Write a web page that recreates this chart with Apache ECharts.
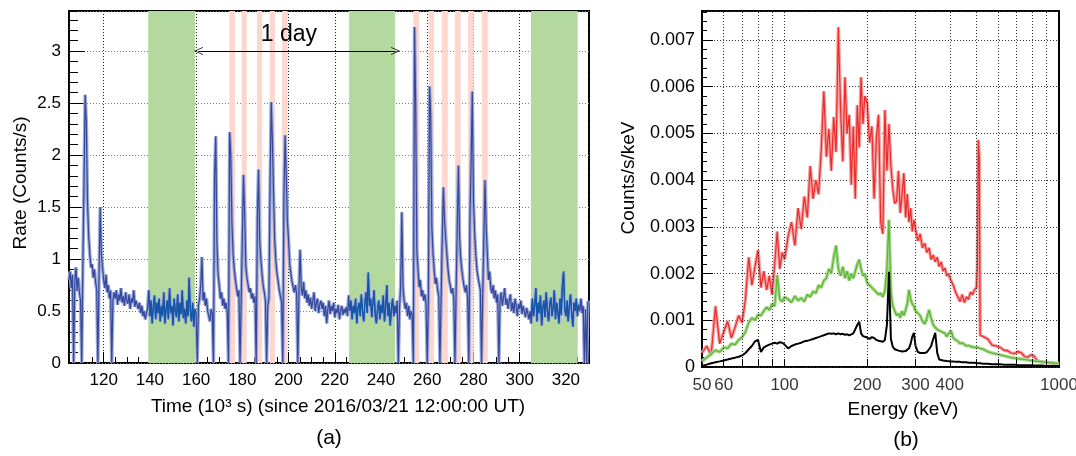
<!DOCTYPE html>
<html>
<head>
<meta charset="utf-8">
<script src="https://cdn.jsdelivr.net/npm/echarts@6/dist/echarts.min.js"></script>
<style>
  html, body { margin: 0; padding: 0; background: #fff; }
  #chart { width: 1076px; height: 456px; }
</style>
</head>
<body>
<div id="chart"></div>
<script>
// ---- (a) light curve: rate in counts/s, one bin every 0.5 x 10^3 s starting at 105 ----
const t0 = 105.0
const binKs = 0.5
const rate = [
  0.80,0.88,0.72,0.85,0,0.78,0.92,0.70,0.82,0.68,0.60,0,0.95,1.75,2.58,2.30,1.55,1.22,1.05,0.92, // 105
  0.95,0.82,0.90,0.78,0.70,0,0.85,1.50,1.05,0.92,0.80,0.72,0.85,0.68,0.75,0.62,0.70,0,0.60,0.68, // 115
  0.62,0.70,0.56,0.66,0.60,0.72,0.58,0.64,0.55,0.68,0.60,0.57,0.66,0.52,0.62,0.58,0.70,0.54,0.60,0.56, // 125
  0.52,0.58,0.48,0.55,0.45,0.50,0.42,0.48,0.52,0.70,0.45,0.60,0.38,0.55,0.65,0.42,0.58,0.48,0.62,0.40, // 135
  0.55,0.45,0.68,0.38,0.52,0.60,0.42,0.72,0.48,0.55,0.36,0.62,0.50,0.44,0.66,0.40,0.58,0.47,0.70,0.43, // 145
  0.52,0.38,0.60,0.45,0.82,0.50,0.40,0.58,0.35,0.52,0.48,0,0.55,0.62,0.75,1.02,0.60,0.68,0.55,0.62, // 155
  0.50,0.45,0.40,0.52,0.48,0,1.80,2.18,1.15,0.85,0.75,0.62,0.68,0.55,0.62,0.52,0.58,0.48,0,2.22, // 165
  2.00,1.34,1.05,0.90,0.80,0.72,0.64,0.70,0,0.60,1.20,1.81,1.44,0.93,0.82,0.75,0.68,0.72,0.62,0.67, // 175
  0.58,0.64,0,1.40,1.86,1.18,1.00,0.86,0.75,0.68,0.60,0,0.55,0.62,1.70,2.51,2.14,1.63,1.18,0.98, // 185
  0.86,0.78,0.70,0.64,0.58,0,1.60,2.19,1.80,1.37,1.18,0.95,0.86,0.78,0.73,0.68,0.75,0.66,0,0.70, // 195
  1.09,0.72,0.65,0.78,0.62,0.70,0.58,0.66,0.55,0.63,0.52,0.60,0.68,0.50,0.58,0.62,0.48,0.56,0.60,0.52, // 205
  0.58,0.45,0.55,0.38,0.52,0.60,0.47,0.55,0.50,0.58,0.44,0.52,0.48,0.56,0.42,0.50,0.55,0.46,0.52,0.48, // 215
  0.54,0.45,0.65,0.50,0.60,0.42,0.55,0.48,0.62,0.38,0.52,0.58,0.45,0.66,0.50,0.40,0.57,0.68,0.48,0.87, // 225
  0.55,0.62,0.44,0.58,0.70,0.46,0.38,0.52,0.60,0.42,0.56,0.48,0.65,0.40,0.53,0.75,0.45,0.58,0.36,0.52, // 235
  0.62,0.45,0.55,0.48,0.60,0,0.52,0.75,1.45,0.73,0.60,0.52,0.58,0.45,0.55,0.42,0.50,0.46,0,3.23, // 245
  2.50,1.09,0.90,0.73,0.80,0.64,0.70,0.60,0.66,0.57,0,0.60,2.66,2.38,1.31,1.05,0.90,0.76,0.82,0.70, // 255
  0.64,0,0.62,1.20,1.69,1.37,1.20,1.05,0.90,0.80,0.74,0.67,0.72,0.62,0,0.70,1.30,1.90,1.21,1.00, // 265
  0.89,0.80,0.73,0.68,0.75,0.62,0,1.40,1.95,2.61,1.57,1.25,1.05,0.90,0.82,0.76,0.70,0,0.65,1.20, // 275
  1.76,1.31,1.05,0.80,0.88,0.72,0.67,0.75,0.62,0.70,0.58,0.66,0,0.60,0.68,0.55,0.63,0.72,0.56,0.62, // 285
  0.52,0.60,0.66,0.50,0.58,0.48,0.62,0.55,0.45,0.57,0.52,0.60,0.47,0.55,0.50,0.44,0.53,0.48,0.42,0.50, // 295
  0.38,0.62,0.45,0.55,0.72,0.40,0.58,0.48,0.65,0.36,0.52,0.60,0.44,0.68,0.50,0.40,0.56,0.63,0.45,0.54, // 305
  0.70,0.42,0.58,0.50,0.38,0.62,0.46,0.75,0.88,0.52,0.45,0.60,0.40,0.55,0.66,0.48,0.35,0.58,0.50,0.62, // 315
  0.45,0.56,0.50,0.62,0.48,0.55,0,0.52,0,0.58,0.60 // 325
]

// green: quiet periods, pink: SAA passages (10^3 s)
const quietBands = [[139.3, 159.5], [226.2, 246.1], [304.9, 325.1]]
const saaBands = [
  [174.4, 176.8], [179.7, 181.9], [186.3, 188.6], [191.8, 194.1], [197.2, 199.6],
  [254.0, 256.5], [260.6, 263.0], [266.4, 268.9], [272.0, 274.5], [277.7, 280.1], [283.7, 286.2]
]
const dayArrow = [161.0, 246.3] // "1 day", drawn at rate 3.0

// ---- (b) spectra, 10^-3 counts/s/keV ----
const energyKeV = [
  50,52,54,56,58,60,62,64,66,68,70,72,74,76,78,80,82,84,86,88,90,92,94,96,98,
  100,103,106,109,112,115,118,121,124,127,130,133,136,139,142,145,148,151,154,157,160,163,166,169,172,175,178,181,184,187,190,193,196,
  200,204,208,212,216,220,224,228,232,236,240,244,248,252,256,260,264,268,272,276,280,284,288,292,296,
  300,306,312,318,324,330,336,342,348,354,360,366,372,378,384,390,396,
  404,412,420,428,436,444,452,460,468,476,484,492,500,
  504,508,512,516,
  530,550,570,590,610,630,650,670,690,710,730,750,770,790,810,830,850,870,890,910,930,950,970,990,1000
]
const redRate = [
  0.30,0.45,0.25,1.30,0.50,0.75,0.98,0.62,0.85,1.10,0.95,1.45,2.35,1.75,2.15,2.50,1.70,2.05,1.65,1.95,1.55,2.20,2.90,2.10,2.45,
  2.30,2.80,3.10,2.60,3.40,2.95,3.65,3.20,4.30,3.60,4.00,3.70,4.65,5.90,4.50,5.10,4.20,5.35,4.60,7.27,5.50,4.40,6.20,5.00,5.40,3.90,5.15,3.60,5.60,4.70,6.20,5.20,5.80,
  5.65,4.80,5.15,3.60,4.90,5.40,3.10,2.85,5.50,4.20,5.20,4.30,3.80,3.50,3.55,4.20,3.30,3.70,4.15,3.20,3.70,3.10,3.40,2.90,3.15,
  2.95,2.70,2.85,2.55,2.65,2.45,2.55,2.30,2.40,2.25,2.35,2.15,2.25,2.05,2.12,1.95,2.00,
  1.85,1.75,1.60,1.50,1.40,1.55,1.38,1.50,1.45,1.60,1.55,1.65,1.70,
  2.10,4.86,4.50,0.68,
  0.65,0.60,0.47,0.45,0.42,0.36,0.35,0.30,0.29,0.33,0.30,0.22,0.21,0.26,0.24,0.15,0.11,0.11,0.10,0.09,0.09,0.07,0.06,0.06,0.05
]
const greenRate = [
  0.12,0.20,0.28,0.36,0.32,0.42,0.40,0.50,0.48,0.58,0.64,0.75,0.95,1.05,1.00,1.12,1.10,1.20,1.28,1.22,1.35,1.30,1.97,1.45,1.40,
  1.50,1.45,1.38,1.52,1.42,1.48,1.40,1.55,1.50,1.62,1.58,1.75,1.70,1.85,1.90,2.10,2.00,2.35,2.60,2.10,1.95,2.15,1.90,2.05,1.85,2.00,1.90,2.05,2.20,2.30,2.10,1.95,2.00,
  1.80,1.75,1.70,1.65,1.60,1.55,1.58,1.50,1.62,2.10,3.15,1.60,1.30,1.20,1.10,1.15,1.05,1.20,1.10,1.22,1.35,1.65,1.45,1.35,1.30,
  1.20,1.15,1.10,0.98,0.92,1.05,1.22,1.05,0.90,0.85,0.80,0.78,0.76,0.74,0.72,0.65,0.72,
  0.78,0.62,0.58,0.55,0.50,0.52,0.48,0.45,0.46,0.44,0.43,0.42,0.42,
  0.42,0.43,0.41,0.40,
  0.38,0.33,0.30,0.28,0.26,0.24,0.22,0.20,0.19,0.18,0.17,0.16,0.15,0.14,0.13,0.12,0.12,0.11,0.10,0.10,0.09,0.09,0.08,0.08,0.08
]
const blackRate = [
  0.02,0.05,0.08,0.10,0.12,0.14,0.16,0.18,0.20,0.22,0.25,0.30,0.38,0.45,0.55,0.58,0.32,0.42,0.45,0.48,0.50,0.52,0.50,0.53,0.52,
  0.48,0.40,0.45,0.48,0.50,0.52,0.55,0.56,0.58,0.60,0.62,0.64,0.66,0.68,0.70,0.72,0.71,0.72,0.70,0.72,0.70,0.71,0.69,0.70,0.68,0.70,0.72,0.76,0.90,0.97,0.72,0.66,0.64,
  0.63,0.60,0.64,0.62,0.58,0.56,0.55,0.54,0.58,0.90,2.04,0.60,0.43,0.38,0.36,0.35,0.34,0.33,0.33,0.34,0.36,0.40,0.50,0.65,0.73,
  0.45,0.32,0.30,0.30,0.30,0.32,0.38,0.45,0.60,0.73,0.30,0.16,0.15,0.14,0.14,0.13,0.13,
  0.12,0.12,0.11,0.11,0.11,0.10,0.10,0.10,0.09,0.09,0.09,0.09,0.08,
  0.08,0.08,0.08,0.08,
  0.07,0.07,0.06,0.06,0.06,0.05,0.05,0.05,0.05,0.04,0.04,0.04,0.04,0.04,0.03,0.03,0.03,0.03,0.02,0.02,0.02,0.02,0.02,0.02,0.02
]
const energyLabels = [50, 60, 100, 200, 300, 400, 1000]
const energyGridLines = [60, 70, 80, 90, 100, 200, 300, 400, 500, 600, 700, 800, 900]

const FONT = 'Liberation Sans, Arial, Helvetica, sans-serif'
const NAVY = '#33489c'
const TEAL = '#0f58a8'

const timeSeries = rate.map((v, i) => [t0 + i * binKs, v])
// same bins, kept only inside the quiet periods (drawn in a bluer tone on top)
const inQuiet = t => quietBands.some(([a, b]) => t >= a && t <= b)
const quietSeries = timeSeries.map(([t, v]) => [t, inQuiet(t) ? v : null])
const spec = arr => energyKeV.map((e, i) => [e, arr[i]])

const dotted = (color) => ({ show: true, lineStyle: { color, width: 1, type: [1, 2] } })
const noAxisBits = { axisLine: { show: false }, axisLabel: { show: false }, splitLine: { show: false } }
const openArrow = 'path://M5,0L10,10L9,10L5,2L1,10L0,10Z'

const chart = echarts.init(document.getElementById('chart'), null, { renderer: 'canvas' })

chart.setOption({
  animation: false,
  backgroundColor: '#fff',
  textStyle: { fontFamily: FONT, color: '#000' },
  grid: [
    { left: 69, top: 11, width: 520, height: 352, show: true, borderColor: '#000', borderWidth: 2, containLabel: false, outerBoundsMode: 'none' },
    { left: 69, top: 11, width: 520, height: 352, show: false, containLabel: false, outerBoundsMode: 'none' },
    { left: 702, top: 11, width: 357, height: 356, show: true, borderColor: '#000', borderWidth: 2, containLabel: false, outerBoundsMode: 'none' },
    { left: 702, top: 11, width: 357, height: 356, show: false, containLabel: false, outerBoundsMode: 'none' }
  ],
  xAxis: [
    {
      gridIndex: 0, type: 'value', min: 105, max: 330, splitNumber: 11, minInterval: 20, maxInterval: 20,
      axisLine: { show: false },
      axisTick: { inside: true, length: 11, lineStyle: { color: '#000' } },
      axisLabel: { fontSize: 17, margin: 9, color: '#000', showMinLabel: false, showMaxLabel: false },
      splitLine: dotted('#222')
    },
    {
      gridIndex: 1, type: 'value', min: 105, max: 330, interval: 5, ...noAxisBits,
      axisTick: { inside: true, length: 6, lineStyle: { color: '#000' } }
    },
    {
      gridIndex: 2, type: 'log', logBase: 10, min: 50, max: 1000, ...noAxisBits,
      axisTick: { show: false }
    },
    {
      gridIndex: 3, type: 'value', min: 0, max: 1, ...noAxisBits, axisTick: { show: false }
    }
  ],
  yAxis: [
    {
      gridIndex: 0, type: 'value', min: 0, max: 3.385, interval: 0.5,
      axisLine: { show: false },
      axisTick: { inside: true, length: 16, lineStyle: { color: '#000' } },
      axisLabel: { fontSize: 17, margin: 8, color: '#000', showMaxLabel: false },
      splitLine: dotted('#777')
    },
    {
      gridIndex: 1, type: 'value', min: 0, max: 3.385, interval: 0.1, ...noAxisBits,
      axisTick: { inside: true, length: 9, lineStyle: { color: '#000' } }
    },
    {
      gridIndex: 2, type: 'value', min: 0, max: 7.62, interval: 1,
      axisLine: { show: false },
      axisTick: { inside: true, length: 11, lineStyle: { color: '#000' } },
      axisLabel: {
        fontSize: 18, margin: 7, color: '#000', showMaxLabel: false,
        formatter: v => (v === 0 ? '0' : (v / 1000).toFixed(3))
      },
      splitLine: dotted('#333')
    },
    {
      gridIndex: 3, type: 'value', min: 0, max: 7.62, interval: 0.2, ...noAxisBits,
      axisTick: { inside: true, length: 5, lineStyle: { color: '#000' } }
    }
  ],
  series: [
    // coloured time bands (under the grid lines)
    {
      type: 'line', xAxisIndex: 0, yAxisIndex: 0, z: -1, silent: true,
      data: [[t0, 0]], symbol: 'none', lineStyle: { opacity: 0 },
      markArea: {
        silent: true,
        data: [
          ...quietBands.map(([a, b]) => [{ xAxis: a, itemStyle: { color: '#b3d99f' } }, { xAxis: b }]),
          ...saaBands.map(([a, b]) => [{ xAxis: a, itemStyle: { color: '#fdd6ce' } }, { xAxis: b }])
        ]
      }
    },
    // error band of the light curve + "1 day" arrow
    {
      type: 'line', xAxisIndex: 0, yAxisIndex: 0, data: timeSeries, symbol: 'none', silent: true,
      lineStyle: { color: '#9ea9d8', width: 3.5 },
      markLine: {
        silent: true,
        symbol: [openArrow, openArrow], symbolSize: [8, 9],
        lineStyle: { color: '#000', width: 1, type: 'solid' },
        label: {
          show: true, position: 'insideMiddleTop', formatter: '1 day',
          fontSize: 23, color: '#000', distance: 5, offset: [-8, 0]
        },
        data: [[{ coord: [dayArrow[0], 3.0] }, { coord: [dayArrow[1], 3.0] }]]
      }
    },
    // light curve
    {
      type: 'line', xAxisIndex: 0, yAxisIndex: 0, data: timeSeries, symbol: 'none', silent: true,
      lineStyle: { color: NAVY, width: 1.2 }
    },
    {
      type: 'line', xAxisIndex: 0, yAxisIndex: 0, data: quietSeries, symbol: 'none', silent: true,
      connectNulls: false, lineStyle: { color: TEAL, width: 1.2 }
    },
    // energy grid lines and bottom ticks
    {
      type: 'line', xAxisIndex: 2, yAxisIndex: 2, z: 1, silent: true,
      data: [[1000, 0]], symbol: 'none', lineStyle: { opacity: 0 },
      markLine: {
        silent: true, symbol: ['none', 'none'], label: { show: false },
        lineStyle: { color: '#333', width: 1, type: [1, 2] },
        data: [
          ...energyGridLines.map(e => ({ xAxis: e })),
          ...energyGridLines.map(e => [
            { coord: [e, 0], lineStyle: { color: '#000', type: 'solid', width: 1 } },
            { coord: [e, 0.17] }
          ])
        ]
      }
    },
    // energy tick labels
    {
      type: 'scatter', xAxisIndex: 2, yAxisIndex: 2, clip: false, silent: true,
      data: energyLabels.map(e => [e, 0]), symbolSize: 1, itemStyle: { color: 'rgba(0,0,0,0)' },
      label: { show: true, position: 'bottom', distance: 9, fontSize: 17, color: '#000', formatter: p => String(p.value[0]) }
    },
    // spectra
    {
      type: 'line', xAxisIndex: 2, yAxisIndex: 2, data: spec(redRate), symbol: 'none', silent: true,
      lineStyle: { color: '#f4a3a3', width: 3.5 }
    },
    {
      type: 'line', xAxisIndex: 2, yAxisIndex: 2, data: spec(redRate), symbol: 'none', silent: true,
      lineStyle: { color: '#ec2a2a', width: 1.2 }
    },
    {
      type: 'line', xAxisIndex: 2, yAxisIndex: 2, data: spec(greenRate), symbol: 'none', silent: true,
      lineStyle: { color: '#a9d88f', width: 3.5 }
    },
    {
      type: 'line', xAxisIndex: 2, yAxisIndex: 2, data: spec(greenRate), symbol: 'none', silent: true,
      lineStyle: { color: '#5cb634', width: 1.2 }
    },
    {
      type: 'line', xAxisIndex: 2, yAxisIndex: 2, data: spec(blackRate), symbol: 'none', silent: true,
      lineStyle: { color: '#000', width: 2 }
    },
    // tick-only grids
    { type: 'line', xAxisIndex: 1, yAxisIndex: 1, data: [], silent: true },
    { type: 'line', xAxisIndex: 3, yAxisIndex: 3, data: [], silent: true }
  ],
  graphic: [
    { type: 'text', x: 21, y: 183, rotation: Math.PI / 2, style: { text: 'Rate (Counts/s)', fontSize: 19, fontFamily: FONT, fill: '#000', align: 'center', verticalAlign: 'middle' } },
    { type: 'text', x: 338, y: 407, style: { text: 'Time (10\u00b3 s) (since 2016/03/21 12:00:00 UT)', fontSize: 19, fontFamily: FONT, fill: '#000', align: 'center', verticalAlign: 'middle' } },
    { type: 'text', x: 329, y: 438, style: { text: '(a)', fontSize: 21, fontFamily: FONT, fill: '#000', align: 'center', verticalAlign: 'middle' } },
    { type: 'text', x: 629, y: 178, rotation: Math.PI / 2, style: { text: 'Counts/s/keV', fontSize: 19, fontFamily: FONT, fill: '#000', align: 'center', verticalAlign: 'middle' } },
    { type: 'text', x: 903, y: 410, style: { text: 'Energy (keV)', fontSize: 19, fontFamily: FONT, fill: '#000', align: 'center', verticalAlign: 'middle' } },
    { type: 'text', x: 906, y: 440, style: { text: '(b)', fontSize: 21, fontFamily: FONT, fill: '#000', align: 'center', verticalAlign: 'middle' } }
  ]
})
</script>
</body>
</html>
